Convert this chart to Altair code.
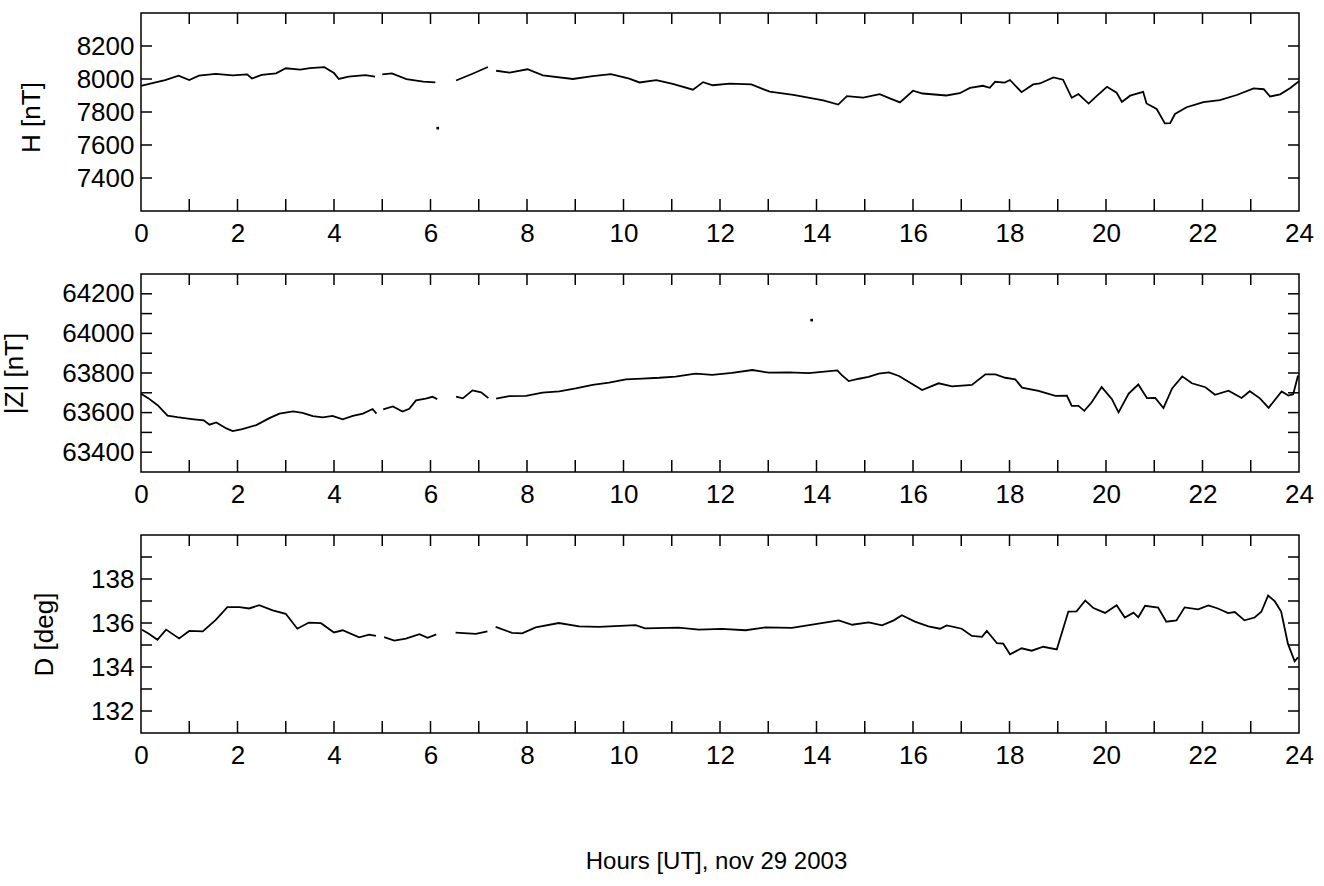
import altair as alt
import pandas as pd

# ---------------- data ----------------
HOUR_LABELS = list(range(0, 25, 2))
HOUR_TICKS = list(range(1, 24))

# H [nT]  (None marks a data gap)
H_hours = [0.0, 0.3, 0.5, 0.78, 1.0, 1.2, 1.55, 1.9, 2.2, 2.3, 2.5, 2.8, 3.0, 3.3, 3.5, 3.8, 4.0, 4.1, 4.3, 4.65, 4.85,
           None,
           5.0, 5.2, 5.5, 5.85, 6.1,
           None,
           6.53, 6.87, 7.19,
           None,
           7.36, 7.64, 8.01, 8.33, 8.95, 9.36, 9.74, 10.12, 10.33, 10.68, 11.02, 11.44, 11.65, 11.85, 12.2, 12.65,
           13.03, 13.52, 14.14, 14.45, 14.63, 14.97, 15.31, 15.52, 15.73, 16.0, 16.2, 16.69, 16.97, 17.18, 17.45,
           17.59, 17.7, 17.9, 18.01, 18.25, 18.49, 18.63, 18.91, 19.11, 19.29, 19.43, 19.64, 19.81, 20.02, 20.22,
           20.33, 20.5, 20.77, 20.84, 21.05, 21.22, 21.33, 21.43, 21.67, 22.02, 22.36, 22.71, 23.06, 23.27, 23.4,
           23.61, 23.82, 24.0]
H_nT = [7958, 7979, 7993, 8020, 7994, 8020, 8031, 8022, 8028, 8003, 8025, 8034, 8065, 8057, 8066, 8072, 8036, 8000, 8014, 8024, 8015,
        None,
        8028, 8034, 7999, 7984, 7980,
        None,
        7991, 8032, 8073,
        None,
        8050, 8039, 8059, 8022, 8000, 8017, 8029, 8002, 7979, 7993, 7970, 7935, 7981, 7962, 7972, 7967,
        7923, 7904, 7870, 7845, 7896, 7887, 7908, 7883, 7858, 7929, 7912, 7900, 7914, 7946, 7959,
        7947, 7983, 7978, 7994, 7920, 7967, 7973, 8010, 7996, 7886, 7909, 7851, 7898, 7953, 7917,
        7861, 7899, 7922, 7852, 7818, 7731, 7732, 7788, 7829, 7860, 7872, 7903, 7943, 7938, 7894,
        7907, 7945, 7986]
H_spike_hours = [6.15]
H_spike_nT = [7702]

# |Z| [nT]
Z_hours = [0.0, 0.15, 0.35, 0.55, 0.75, 0.9, 1.1, 1.3, 1.42, 1.56, 1.77, 1.9, 2.1, 2.39, 2.66, 2.87, 3.15, 3.35, 3.56, 3.77,
           3.97, 4.18, 4.39, 4.6, 4.8, 4.88,
           None,
           5.02, 5.22, 5.42, 5.56, 5.7, 5.9, 6.04, 6.14,
           None,
           6.53, 6.67, 6.87, 7.05, 7.2,
           None,
           7.36, 7.63, 7.98, 8.32, 8.67, 9.01, 9.36, 9.7, 10.05, 10.39, 10.74, 11.08, 11.49, 11.84, 12.25, 12.67,
           13.01, 13.43, 13.84, 14.43, 14.53, 14.67, 14.88, 15.08, 15.29, 15.5, 15.71, 16.19, 16.53, 16.81, 17.22,
           17.5, 17.71, 17.91, 18.12, 18.26, 18.6, 18.95, 19.19, 19.29, 19.43, 19.55, 19.7, 19.91, 20.12, 20.26,
           20.47, 20.67, 20.85, 21.02, 21.19, 21.37, 21.58, 21.78, 22.06, 22.26, 22.54, 22.81, 22.98, 23.19, 23.37,
           23.64, 23.78, 23.88, 23.98]
Z_nT = [63695, 63673, 63636, 63585, 63577, 63572, 63566, 63561, 63539, 63550, 63520, 63507, 63516, 63537, 63572, 63595, 63606, 63599, 63582, 63576,
        63583, 63566, 63583, 63595, 63618, 63595,
        None,
        63616, 63631, 63605, 63619, 63662, 63671, 63680, 63668,
        None,
        63681, 63672, 63712, 63702, 63673,
        None,
        63671, 63683, 63684, 63701, 63707, 63722, 63740, 63751, 63768, 63772, 63776, 63782, 63797, 63791, 63801, 63815,
        63802, 63803, 63799, 63813, 63788, 63759, 63771, 63780, 63797, 63803, 63785, 63714, 63748, 63732, 63740,
        63793, 63793, 63776, 63768, 63726, 63710, 63684, 63685, 63634, 63634, 63609, 63651, 63729, 63669, 63601,
        63696, 63742, 63673, 63674, 63623, 63722, 63783, 63748, 63728, 63690, 63711, 63674, 63708, 63672, 63624,
        63707, 63686, 63693, 63787]
Z_spike_hours = [13.9]
Z_spike_nT = [64067]

# D [deg]
D_hours = [0.02, 0.17, 0.34, 0.52, 0.79, 1.0, 1.28, 1.55, 1.79, 2.04, 2.24, 2.45, 2.73, 3.0, 3.24, 3.48, 3.73, 4.0, 4.18,
           4.52, 4.73, 4.87,
           None,
           5.04, 5.25, 5.49, 5.77, 5.94, 6.12,
           None,
           6.52, 6.94, 7.18,
           None,
           7.35, 7.69, 7.9, 8.18, 8.66, 9.08, 9.49, 10.25, 10.45, 11.14, 11.56, 12.04, 12.53, 12.94, 13.49, 13.91,
           14.46, 14.74, 15.08, 15.36, 15.6, 15.77, 16.04, 16.32, 16.56, 16.7, 17.01, 17.22, 17.43, 17.53, 17.74,
           17.87, 18.01, 18.25, 18.46, 18.7, 18.98, 19.22, 19.39, 19.57, 19.74, 19.98, 20.22, 20.39, 20.57, 20.67,
           20.81, 21.08, 21.25, 21.46, 21.63, 21.91, 22.12, 22.32, 22.53, 22.67, 22.87, 23.08, 23.22, 23.36, 23.5,
           23.63, 23.77, 23.91, 23.98]
D_deg = [135.69, 135.50, 135.24, 135.70, 135.30, 135.64, 135.62, 136.14, 136.72, 136.72, 136.66, 136.81, 136.57, 136.42,
         135.74, 136.02, 135.99, 135.57, 135.67, 135.35, 135.47, 135.41,
         None,
         135.36, 135.20, 135.29, 135.49, 135.33, 135.48,
         None,
         135.56, 135.51, 135.62,
         None,
         135.82, 135.55, 135.53, 135.80, 136.00, 135.85, 135.82, 135.90, 135.76, 135.79, 135.70, 135.73, 135.67,
         135.80, 135.78, 135.93, 136.12, 135.92, 136.03, 135.89, 136.12, 136.35, 136.06, 135.85, 135.74, 135.89,
         135.74, 135.41, 135.37, 135.64, 135.08, 135.06, 134.58, 134.85, 134.74, 134.92, 134.80, 136.52, 136.53,
         137.02, 136.68, 136.46, 136.81, 136.25, 136.47, 136.26, 136.78, 136.70, 136.06, 136.12, 136.71, 136.62,
         136.80, 136.66, 136.45, 136.50, 136.12, 136.25, 136.51, 137.25, 136.98, 136.52, 135.06, 134.26, 134.44]

# ---------------- layout ----------------
W = 1158
PH = 198
TICK = 11
FONT = "Liberation Sans"


def to_frame(ts, vs):
    rows, seg = [], 0
    for t, v in zip(ts, vs):
        if t is None:
            seg += 1
            continue
        rows.append({"t": t, "v": v, "seg": seg})
    return pd.DataFrame(rows)


def panel(ts, vs, dom, label_vals, tick_vals, ytitle, title_x, spike=None, xtitle=None, title_y=None):
    df = to_frame(ts, vs)
    xs = alt.Scale(domain=[0, 24], nice=False, zero=False)
    ys = alt.Scale(domain=dom, nice=False, zero=False)
    xkw = dict(values=HOUR_LABELS, format="d", labelFontSize=26, labelPadding=9, labelFlush=False,
               labelFont=FONT, labelColor="black")
    if xtitle:
        xkw.update(title=xtitle, titleFontSize=24, titleFont=FONT, titleFontWeight="normal",
                   titleX=575, titleY=128, titleBaseline="middle", titleAlign="center", titleColor="black")
    else:
        xkw.update(title=None)
    ykw = dict(values=label_vals, format="d", labelFontSize=26, labelPadding=7, labelFont=FONT,
               labelColor="black",
               title=ytitle, titleFontSize=26, titleFont=FONT, titleFontWeight="normal", titleColor="black",
               titleX=title_x, titleBaseline="middle", titleAlign="center")
    if title_y is not None:
        ykw.update(titleY=title_y)
    xaxis = alt.Axis(**xkw)
    yaxis = alt.Axis(**ykw)

    line = alt.Chart(df).mark_line(color="black", strokeWidth=1.8).encode(
        x=alt.X("t:Q", scale=xs, axis=xaxis),
        y=alt.Y("v:Q", scale=ys, axis=yaxis),
        detail="seg:N",
    )
    xt = alt.Chart(pd.DataFrame({"t": HOUR_TICKS}))
    top_ticks = xt.mark_rule(color="black", strokeWidth=1.5).encode(
        x=alt.X("t:Q", scale=xs, axis=xaxis), y=alt.value(0), y2=alt.value(TICK))
    bot_ticks = xt.mark_rule(color="black", strokeWidth=1.5).encode(
        x=alt.X("t:Q", scale=xs, axis=xaxis), y=alt.value(PH - TICK - 1), y2=alt.value(PH))
    yt = alt.Chart(pd.DataFrame({"v": tick_vals}))
    left_ticks = yt.mark_rule(color="black", strokeWidth=1.5).encode(
        y=alt.Y("v:Q", scale=ys, axis=yaxis), x=alt.value(0), x2=alt.value(TICK))
    right_ticks = yt.mark_rule(color="black", strokeWidth=1.5).encode(
        y=alt.Y("v:Q", scale=ys, axis=yaxis), x=alt.value(W - TICK), x2=alt.value(W))
    layers = [line, top_ticks, bot_ticks, left_ticks, right_ticks]
    if spike is not None:
        sp = alt.Chart(pd.DataFrame({"t": spike[0], "v": spike[1]})).mark_square(
            size=7, color="black", opacity=1).encode(
            x=alt.X("t:Q", scale=xs, axis=xaxis), y=alt.Y("v:Q", scale=ys, axis=yaxis))
        layers.append(sp)
    return alt.layer(*layers).properties(width=W, height=PH)


p1 = panel(H_hours, H_nT, [7200, 8400], [7400, 7600, 7800, 8000, 8200],
           [7400, 7600, 7800, 8000, 8200], "H [nT]", -110, spike=(H_spike_hours, H_spike_nT), title_y=104)
p2 = panel(Z_hours, Z_nT, [63300, 64300], [63400, 63600, 63800, 64000, 64200],
           list(range(63400, 64201, 100)), "|Z| [nT]", -127, spike=(Z_spike_hours, Z_spike_nT))
p3 = panel(D_hours, D_deg, [131, 140], [132, 134, 136, 138],
           list(range(132, 140)), "D [deg]", -97, xtitle="Hours [UT], nov 29 2003")

chart = (
    alt.vconcat(p1, p2, p3, spacing=25)
    .properties(padding={"left": 0, "top": 11, "right": 5, "bottom": 5}, background="white")
    .configure_view(stroke="black", strokeWidth=1.5)
    .configure_axis(domain=False, ticks=False, grid=False)
)

chart.save("out.html", embed_options={"renderer": "svg", "actions": False})
